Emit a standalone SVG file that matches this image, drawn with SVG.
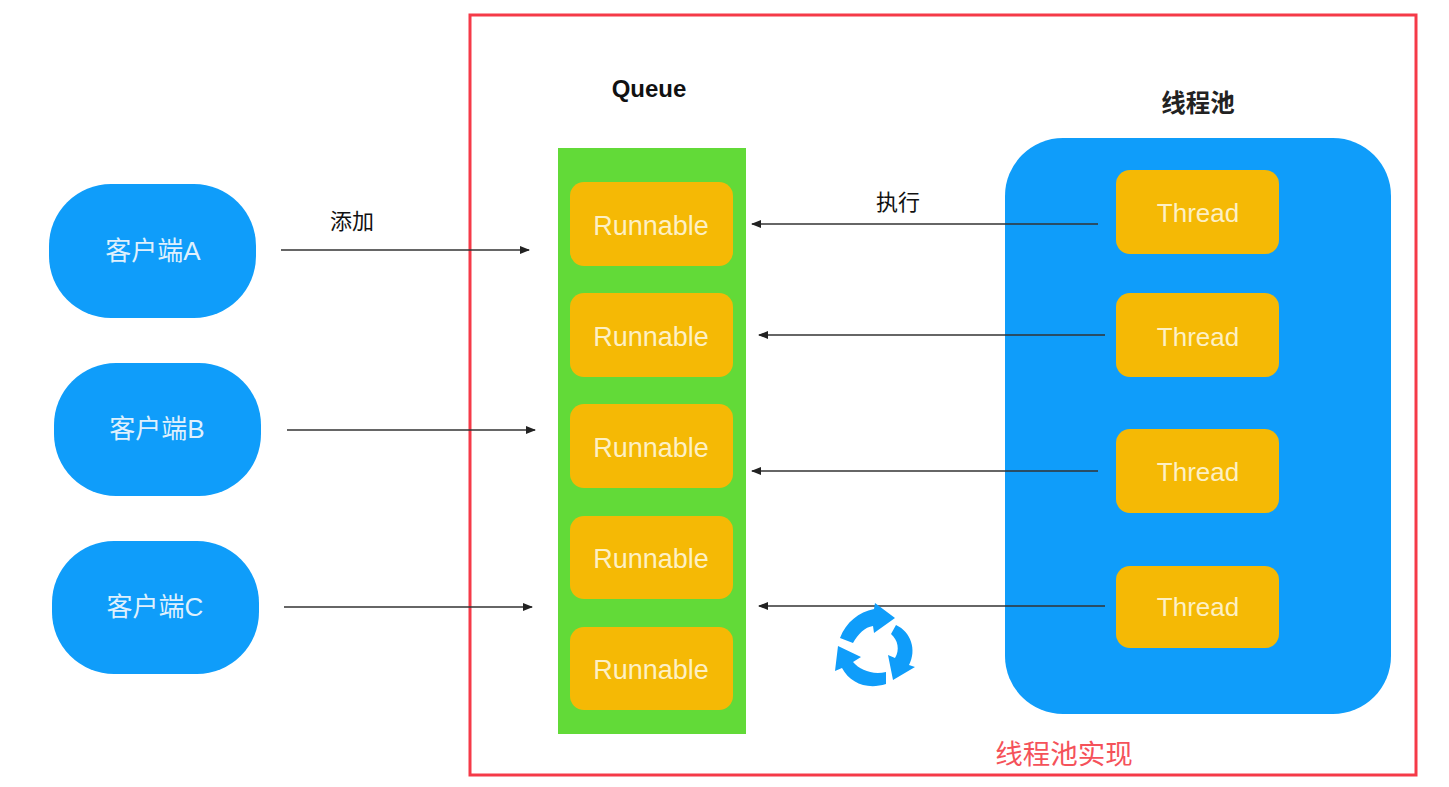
<svg xmlns="http://www.w3.org/2000/svg" width="1449" height="787" viewBox="0 0 1449 787">
<style>
text{font-family:"Liberation Sans","Noto Sans CJK SC",sans-serif}
.b{fill:#0f9dfa}.o{fill:#f5b905}
.t{fill:#fdf0c4;font-size:27px;text-anchor:middle}
.h{fill:#fdf0c4;font-size:26px;text-anchor:middle}
.c{fill:#dff0fd;font-size:26px;text-anchor:middle}
.l{stroke:#333;stroke-width:1.6;fill:none;marker-end:url(#a)}
</style>
<defs><marker id="a" markerUnits="userSpaceOnUse" markerWidth="10" markerHeight="8" refX="9" refY="4" orient="auto"><path d="M0 0L10 4L0 8Z" fill="#222"/></marker></defs>
<rect width="1449" height="787" fill="#fff"/>
<g id="frame"><rect x="470" y="15" width="946" height="760" fill="none" stroke="#f53a48" stroke-width="3"/><text x="1064" y="764" font-size="27.5" fill="#f5525a" text-anchor="middle">线程池实现</text></g>
<g id="clientA"><rect class="b" x="49" y="184" width="207" height="134" rx="62"/><text class="c" x="153" y="260">客户端A</text></g>
<g id="clientB"><rect class="b" x="54" y="363" width="207" height="133" rx="62"/><text class="c" x="157" y="438">客户端B</text></g>
<g id="clientC"><rect class="b" x="52" y="541" width="207" height="133" rx="62"/><text class="c" x="155" y="616">客户端C</text></g>
<g id="queue"><rect x="558" y="148" width="188" height="586" fill="#62da38"/><text x="649" y="97" font-size="24" font-weight="bold" fill="#111" text-anchor="middle">Queue</text></g>
<g id="runnable1"><rect class="o" x="570" y="182" width="163" height="84" rx="14"/><text class="t" x="651" y="235">Runnable</text></g>
<g id="runnable2"><rect class="o" x="570" y="293" width="163" height="84" rx="14"/><text class="t" x="651" y="346">Runnable</text></g>
<g id="runnable3"><rect class="o" x="570" y="404" width="163" height="84" rx="14"/><text class="t" x="651" y="457">Runnable</text></g>
<g id="runnable4"><rect class="o" x="570" y="516" width="163" height="83" rx="14"/><text class="t" x="651" y="568">Runnable</text></g>
<g id="runnable5"><rect class="o" x="570" y="627" width="163" height="83" rx="14"/><text class="t" x="651" y="679">Runnable</text></g>
<g id="pool"><rect class="b" x="1005" y="138" width="386" height="576" rx="58"/><text x="1198" y="112" font-size="24.5" font-weight="bold" fill="#222" text-anchor="middle">线程池</text></g>
<g id="thread1"><rect class="o" x="1116" y="170" width="163" height="84" rx="14"/><text class="h" x="1198" y="222">Thread</text></g>
<g id="thread2"><rect class="o" x="1116" y="293" width="163" height="84" rx="14"/><text class="h" x="1198" y="346">Thread</text></g>
<g id="thread3"><rect class="o" x="1116" y="429" width="163" height="84" rx="14"/><text class="h" x="1198" y="481">Thread</text></g>
<g id="thread4"><rect class="o" x="1116" y="566" width="163" height="82" rx="14"/><text class="h" x="1198" y="616">Thread</text></g>
<g id="connectors">
<line class="l" x1="281" y1="250" x2="529" y2="250"/>
<line class="l" x1="287" y1="430" x2="535" y2="430"/>
<line class="l" x1="284" y1="607" x2="532" y2="607"/>
<line class="l" x1="1098" y1="224" x2="752" y2="224"/>
<line class="l" x1="1105" y1="335" x2="759" y2="335"/>
<line class="l" x1="1098" y1="471" x2="752" y2="471"/>
<line class="l" x1="1105" y1="606" x2="759" y2="606"/>
<text x="352" y="229" font-size="22" fill="#111" text-anchor="middle">添加</text>
<text x="898" y="210" font-size="22" fill="#111" text-anchor="middle">执行</text>
</g>
<g id="cycle" fill="#0f9dfa">
<path d="M840 638C846 622 859 612 874 609L875 603L895 618L874 633L873 626C865 627 858 634 853 643Z"/>
<path d="M896 625C911 632 917 650 909 665L915 667L893 680L888 655L895 658C900 650 898 640 891 634Z"/>
<path d="M886 672L886 684C867 690 850 683 842 668L835 671L838 646L861 657L853 662C860 670 872 675 886 672Z"/>
</g>
</svg>
